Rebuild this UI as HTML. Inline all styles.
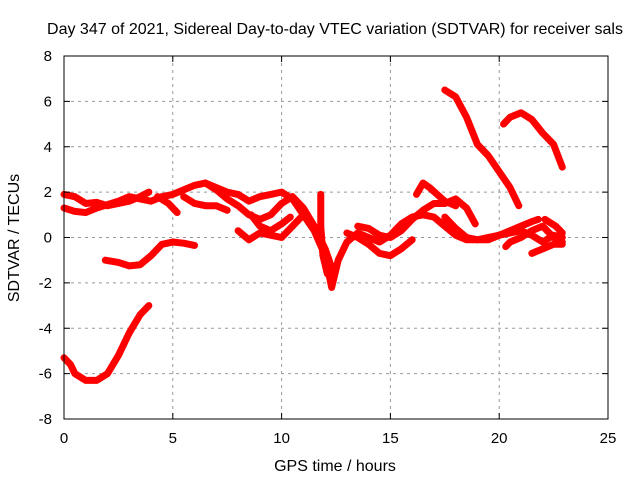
<!DOCTYPE html>
<html><head><meta charset="utf-8"><style>
body{margin:0;background:#fff}
text{font-family:"Liberation Sans",sans-serif;font-size:15px;fill:#000}
.big{font-size:16px}
</style></head><body>
<svg id="chart" width="640" height="480" xmlns="http://www.w3.org/2000/svg">
<rect width="640" height="480" fill="#fff"/>
<g id="grid"></g>
<g id="series"></g>
<rect x="64" y="56" width="544" height="363" fill="none" stroke="#000" stroke-width="1"/>
<g id="ticks"></g>
<text class="big" x="335" y="34" text-anchor="middle">Day 347 of 2021, Sidereal Day-to-day VTEC variation (SDTVAR) for receiver sals</text>
<text class="big" x="335" y="471" text-anchor="middle">GPS time / hours</text>
<text class="big" transform="translate(19,238) rotate(-90)" text-anchor="middle">SDTVAR / TECUs</text>
</svg>
<script>
const xTicks=[0,5,10,15,20,25];
const yTicks=[-8,-6,-4,-2,0,2,4,6,8];
const track1=[[0,-5.3],[0.3,-5.6],[0.5,-6.0],[1,-6.3],[1.5,-6.3],[2,-6.0],[2.5,-5.2],[3,-4.2],[3.5,-3.4],[3.9,-3.0]];
const track2=[[1.9,-1.0],[2.5,-1.1],[3,-1.25],[3.5,-1.2],[4,-0.8],[4.5,-0.3],[5,-0.2],[5.5,-0.25],[6,-0.35]];
const track3=[[0,1.9],[0.5,1.8],[1,1.5],[1.5,1.55],[2,1.4],[2.5,1.5],[3,1.6],[3.5,1.8],[3.9,2.0]];
const track4=[[0,1.3],[0.5,1.15],[1,1.1],[1.5,1.3],[2,1.45],[2.5,1.6],[3,1.8],[3.5,1.7],[4,1.6],[4.5,1.8],[5,1.9],[5.5,2.1],[6,2.3],[6.5,2.4],[7,2.2],[7.5,2.0],[8,1.9],[8.5,1.6],[9,1.8],[9.5,1.9],[10,2.0],[10.5,1.7],[11,1.0],[11.5,0.3],[12,-0.8],[12.3,-2.2],[12.6,-1.0],[13,-0.2],[13.5,0.2],[14,0.0],[14.5,-0.2],[15,0.1],[15.5,0.6],[16,0.9],[16.5,1.0],[17,0.9],[17.5,0.5],[18,0.1],[18.5,-0.1],[19,-0.1],[19.5,-0.1],[20,0.1],[20.5,0.3],[21,0.5],[21.5,0.7],[21.8,0.8]];
const track5=[[4.3,1.8],[4.8,1.5],[5.2,1.1]];
const track6=[[5.5,1.8],[6,1.5],[6.5,1.4],[7,1.4],[7.5,1.2]];
const track7=[[6.5,2.4],[7,2.1],[7.5,1.7],[8,1.4],[8.5,1.0],[9,0.8],[9.5,1.0],[10,1.5],[10.5,1.8],[11,1.3],[11.5,0.5],[12,-0.5],[12.4,-1.6]];
const track8=[[8,0.3],[8.5,-0.1],[9,0.2],[9.5,0.1],[10,0.0],[10.5,0.5],[11,1.0]];
const track9=[[8.6,1.0],[9,0.5],[9.5,0.3],[10,0.6],[10.4,0.9]];
const track10=[[11.8,1.9],[11.8,0.5],[11.9,-0.8],[12.1,-1.6]];
const track11=[[13,0.2],[13.5,0.0],[14,-0.3],[14.5,-0.7],[15,-0.8],[15.5,-0.5],[16,-0.1]];
const track12=[[13.5,0.5],[14,0.4],[14.5,0.1],[15,0.0],[15.5,0.3],[16,0.8],[16.5,1.2],[17,1.5],[17.5,1.5],[18,1.7],[18.5,1.3],[18.9,0.6]];
const track13=[[16.2,1.9],[16.5,2.4],[16.8,2.2],[17.5,1.6],[18,1.4]];
const track14=[[17.5,6.5],[18,6.2],[18.5,5.3],[19,4.1],[19.5,3.6],[20,2.9],[20.5,2.2],[20.9,1.4]];
const track15=[[20.2,5.0],[20.5,5.3],[21,5.5],[21.5,5.2],[22,4.6],[22.5,4.1],[22.9,3.1]];
const track16=[[17.5,0.9],[18,0.4],[18.5,0.0],[19,-0.1],[20,0.1],[21,0.3],[21.5,0.1],[22,-0.2],[22.5,0.1],[22.9,0.0]];
const track17=[[20.3,-0.4],[20.5,-0.2],[21,0.0],[21.5,0.3],[22,0.5],[22.5,0.0],[22.9,-0.2]];
const track18=[[21.5,-0.7],[22,-0.5],[22.5,-0.3],[22.9,-0.3]];
const track19=[[22.1,0.8],[22.6,0.5],[22.9,0.2]];
const tracks=[track1,track2,track3,track4,track5,track6,track7,track8,track9,track10,track11,track12,track13,track14,track15,track16,track17,track18,track19];
const NS="http://www.w3.org/2000/svg";
const X=h=>64+h*544/25;
const Y=v=>237.5-v*363/16;
const grid=document.getElementById('grid'),ticks=document.getElementById('ticks'),ser=document.getElementById('series');
function mk(tag,attrs,parent){const e=document.createElementNS(NS,tag);for(const k in attrs)e.setAttribute(k,attrs[k]);parent.appendChild(e);return e;}
xTicks.forEach(t=>{
  if(t>0&&t<25){const g=mk('line',{x1:X(t),x2:X(t),y1:56,y2:419,stroke:'#999','stroke-dasharray':'3,4'},grid);
  
  }
  mk('line',{x1:X(t),x2:X(t),y1:419,y2:413,stroke:'#000'},ticks);
  mk('line',{x1:X(t),x2:X(t),y1:56,y2:62,stroke:'#000'},ticks);
  const l=mk('text',{x:X(t),y:443,'text-anchor':'middle'},ticks);l.textContent=t;
  
  
});
yTicks.forEach(t=>{
  if(t>-8&&t<8){const g=mk('line',{x1:64,x2:608,y1:Y(t),y2:Y(t),stroke:'#999','stroke-dasharray':'3,4'},grid);
  
  }
  mk('line',{x1:64,x2:70,y1:Y(t),y2:Y(t),stroke:'#000'},ticks);
  mk('line',{x1:602,x2:608,y1:Y(t),y2:Y(t),stroke:'#000'},ticks);
  const l=mk('text',{x:52,y:Y(t)+5,'text-anchor':'end'},ticks);l.textContent=t;
  
  
});
tracks.forEach((tr,i)=>{
  const p=mk('polyline',{points:tr.map(d=>X(d[0])+','+Y(d[1])).join(' '),fill:'none',stroke:'#f00','stroke-width':7,'stroke-linejoin':'round','stroke-linecap':'round'},ser);
  
  
});
</script>
</body></html>
